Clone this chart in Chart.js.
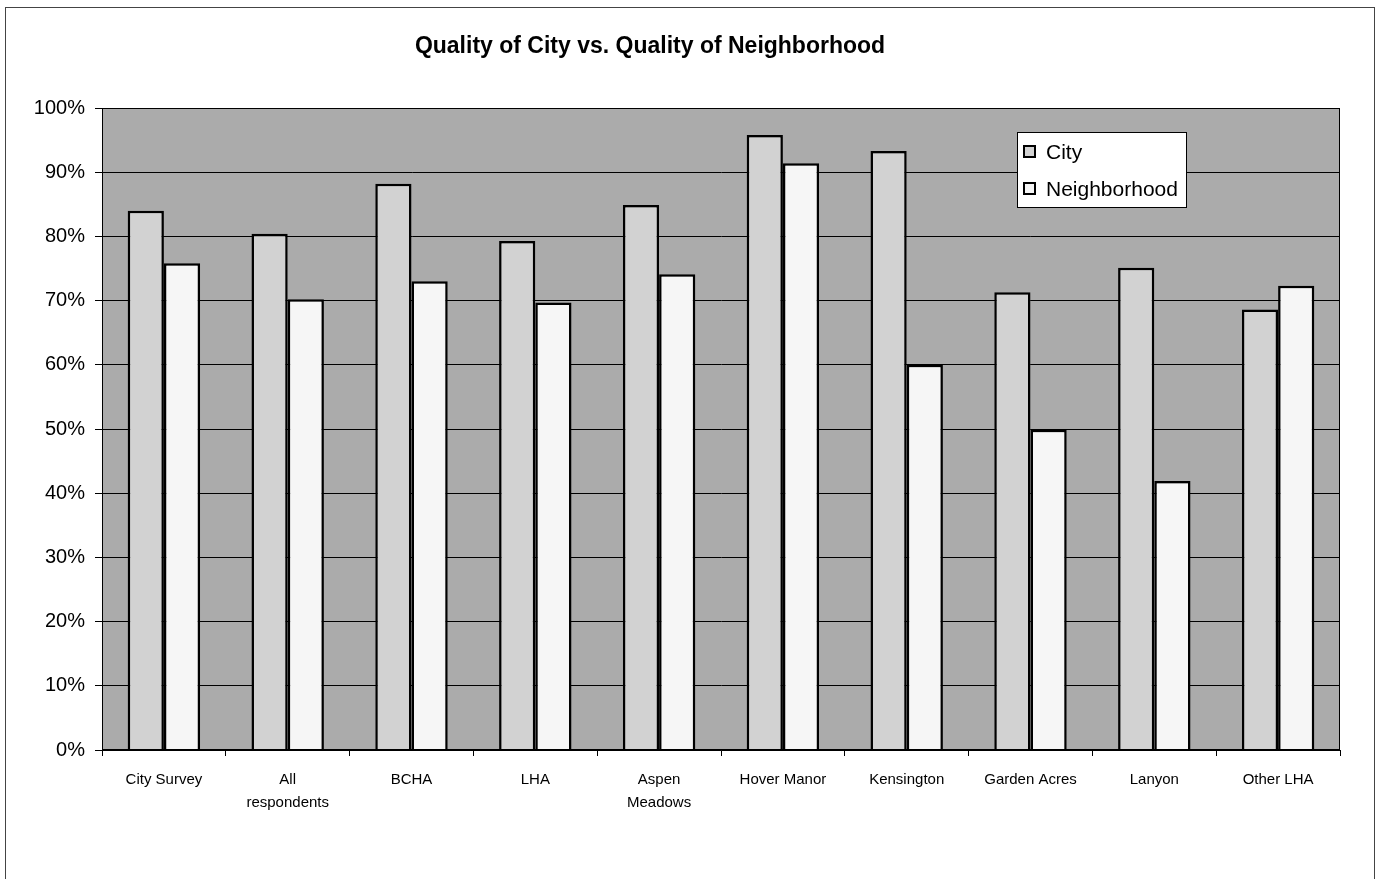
<!DOCTYPE html>
<html>
<head>
<meta charset="utf-8">
<script src="https://cdn.jsdelivr.net/npm/chart.js@4.4.1/dist/chart.umd.min.js"></script>
<style>
    body { margin: 0; background: #fff; }
    #wrap { position: relative; width: 1376px; height: 879px; }
    #frame {
        position: absolute; left: 5px; top: 7px; width: 1368px; height: 880px;
        border: 1px solid #444; border-bottom: none; pointer-events: none;
    }
</style>
</head>
<body>
<div id="wrap">
    <canvas id="qualityChart" width="1376" height="879"></canvas>
    <div id="frame"></div>
</div>
<script>
// =============================================
// DATA
// =============================================
const categories = [
    'City Survey', ['All', 'respondents'], 'BCHA', 'LHA', ['Aspen', 'Meadows'],
    'Hover Manor', 'Kensington', 'Garden Acres', 'Lanyon', 'Other LHA'
];
const cityValues = [84.0, 80.4, 88.2, 79.3, 84.9, 95.8, 93.3, 71.3, 75.1, 68.6];
const neighborhoodValues = [75.8, 70.2, 73.0, 69.7, 74.1, 91.4, 60.0, 49.9, 41.9, 72.3];
const yTicks = [0, 10, 20, 30, 40, 50, 60, 70, 80, 90, 100];
const chartTitle = 'Quality of City vs. Quality of Neighborhood';

const plotBg = '#ababab';
const cityColor = '#d2d2d2';
const neighborhoodColor = '#f6f6f6';

// plot background + frame of the plot area
const plotAreaPlugin = {
    id: 'plotArea',
    beforeDraw(chart) {
        const { ctx, chartArea: a } = chart;
        ctx.save();
        ctx.fillStyle = plotBg;
        ctx.fillRect(a.left, a.top, a.right - a.left, a.bottom - a.top);
        ctx.restore();
    },
    afterDraw(chart) {
        const { ctx, chartArea: a } = chart;
        ctx.save();
        ctx.strokeStyle = '#000';
        ctx.lineWidth = 1;
        ctx.strokeRect(a.left + 0.5, a.top + 0.5, a.right - a.left - 1, a.bottom - a.top - 1);
        ctx.restore();
    }
};

// title, drawn a bit left of centre like the original
const titlePlugin = {
    id: 'customTitle',
    afterDraw(chart) {
        const ctx = chart.ctx;
        ctx.save();
        ctx.font = 'bold 23px "Liberation Sans", Arial, sans-serif';
        ctx.fillStyle = '#000';
        ctx.textAlign = 'center';
        ctx.textBaseline = 'middle';
        ctx.fillText(chartTitle, 650, 47);
        ctx.restore();
    }
};

// boxed legend inside the plot area
const legendPlugin = {
    id: 'boxLegend',
    afterDraw(chart) {
        const ctx = chart.ctx;
        const x = 1017, y = 132, w = 169, h = 75;
        ctx.save();
        ctx.fillStyle = '#fff';
        ctx.fillRect(x, y, w, h);
        ctx.strokeStyle = '#000';
        ctx.lineWidth = 1;
        ctx.strokeRect(x + 0.5, y + 0.5, w, h);
        ctx.font = '21px "Liberation Sans", Arial, sans-serif';
        ctx.textBaseline = 'middle';
        chart.data.datasets.forEach((ds, i) => {
            const cy = y + 20 + i * 37;
            ctx.fillStyle = ds.backgroundColor;
            ctx.fillRect(x + 7, cy - 6, 11, 11);
            ctx.lineWidth = 2;
            ctx.strokeRect(x + 7, cy - 6, 11, 11);
            ctx.fillStyle = '#000';
            ctx.fillText(ds.label, x + 29, cy + 1);
        });
        ctx.restore();
    }
};

const ctx = document.getElementById('qualityChart').getContext('2d');
new Chart(ctx, {
    type: 'bar',
    data: {
        labels: categories,
        datasets: [
            {
                label: 'City',
                data: cityValues,
                backgroundColor: cityColor,
                borderColor: '#000',
                borderWidth: 2.5
            },
            {
                label: 'Neighborhood',
                data: neighborhoodValues,
                backgroundColor: neighborhoodColor,
                borderColor: '#000',
                borderWidth: 2.5
            }
        ]
    },
    options: {
        responsive: false,
        animation: false,
        events: [],
        layout: { padding: { top: 108, right: 36, left: 0, bottom: 0 } },
        datasets: { bar: { categoryPercentage: 0.585, barPercentage: 1.0 } },
        plugins: {
            legend: { display: false },
            title: { display: false },
            tooltip: { enabled: false }
        },
        scales: {
            x: {
                afterFit: scale => { scale.height = 129; },
                grid: {
                    display: true,
                    drawOnChartArea: false,
                    drawTicks: true,
                    tickLength: 6,
                    color: '#000'
                },
                border: { display: true, color: '#000', width: 1 },
                ticks: {
                    color: '#000',
                    padding: 13,
                    maxRotation: 0,
                    autoSkip: false,
                    font: { family: '"Liberation Sans", Arial, sans-serif', size: 15, lineHeight: 1.5 }
                }
            },
            y: {
                min: 0,
                max: 100,
                afterFit: scale => { scale.width = 102; },
                afterBuildTicks: scale => { scale.ticks = yTicks.map(v => ({ value: v })); },
                grid: {
                    color: '#000',
                    lineWidth: 1,
                    tickLength: 7
                },
                border: { display: true, color: '#000', width: 1 },
                ticks: {
                    color: '#000',
                    padding: 10,
                    callback: v => v + '%',
                    font: { family: '"Liberation Sans", Arial, sans-serif', size: 20 }
                }
            }
        }
    },
    plugins: [plotAreaPlugin, titlePlugin, legendPlugin]
});
</script>
</body>
</html>
